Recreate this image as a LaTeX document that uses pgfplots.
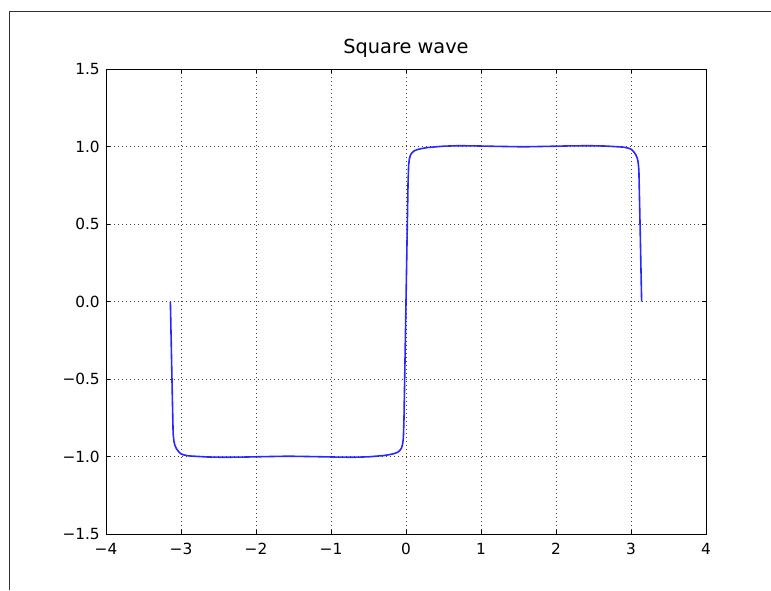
\documentclass[border=0pt]{standalone}
\usepackage{pgfplots}
\pgfplotsset{compat=1.18}
\usepackage{fontspec}
\setmainfont{DejaVu Sans}

% Truncated Fourier series of a square wave, sampled on [-pi, pi]
\pgfplotstableread{
x y
-3.1416 0
-3.124 -0.42
-3.105 -0.85
-3.095 -0.90
-3.08 -0.93
-3.06 -0.95
-3.03 -0.97
-3.0 -0.983
-2.96 -0.99
-2.9 -0.996
-2.8 -0.999
-2.65 -1.003
-2.45 -1.005
-2.2 -1.004
-1.9 -1.001
-1.57 -0.998
-1.2 -1.001
-0.9 -1.004
-0.7 -1.005
-0.5 -1.002
-0.3 -0.994
-0.22 -0.988
-0.15 -0.98
-0.11 -0.972
-0.08 -0.96
-0.06 -0.945
-0.045 -0.92
-0.035 -0.88
-0.027 -0.76
-0.014 -0.40
0 0
0.014 0.40
0.027 0.76
0.035 0.88
0.045 0.92
0.06 0.945
0.08 0.96
0.11 0.972
0.15 0.98
0.22 0.988
0.3 0.994
0.5 1.002
0.7 1.005
0.9 1.004
1.2 1.001
1.57 0.998
1.9 1.001
2.2 1.004
2.45 1.005
2.65 1.003
2.8 0.999
2.9 0.996
2.96 0.99
3.0 0.983
3.03 0.97
3.06 0.95
3.08 0.93
3.095 0.90
3.105 0.85
3.124 0.42
3.1416 0
}\squarewave

\definecolor{wave}{RGB}{40,40,255}

\begin{document}
\begin{tikzpicture}
\path[use as bounding box] (0,0) rectangle (578.25pt,442.5pt);
% figure frame
\draw[black!80, line width=0.75pt] (7pt,0pt) -- (7pt,433.5pt) -- (578.25pt,433.5pt);
\begin{axis}[
  at={(79.5pt,42pt)}, anchor=south west,
  scale only axis, width=450pt, height=348.75pt,
  xmin=-4, xmax=4, ymin=-1.5, ymax=1.5,
  xtick={-4,-3,-2,-1,0,1,2,3,4},
  xticklabels={−4,−3,−2,−1,0,1,2,3,4},
  ytick={-1.5,-1,-0.5,0,0.5,1,1.5},
  yticklabels={−1.5,−1.0,−0.5,0.0,0.5,1.0,1.5},
  tick align=inside,
  major tick length=3.3pt,
  tick style={black, line width=0.6pt},
  axis line style={black, line width=0.75pt},
  grid=major,
  major grid style={black!75, line width=0.5pt, dash pattern=on 0.75pt off 2.25pt},
  tick label style={font=\fontsize{11.5}{13}\selectfont},
  xticklabel style={anchor=base, yshift=-15pt},
  yticklabel style={anchor=east, inner sep=0pt, xshift=-4.5pt},
  title={Square wave},
  title style={at={(axis description cs:0.5,1)}, anchor=base, yshift=5.6pt, font=\fontsize{14.5}{17}\selectfont},
]
\addplot[wave, line width=1.2pt, line join=round] table[x=x, y=y] {\squarewave};
\end{axis}
\end{tikzpicture}
\end{document}
